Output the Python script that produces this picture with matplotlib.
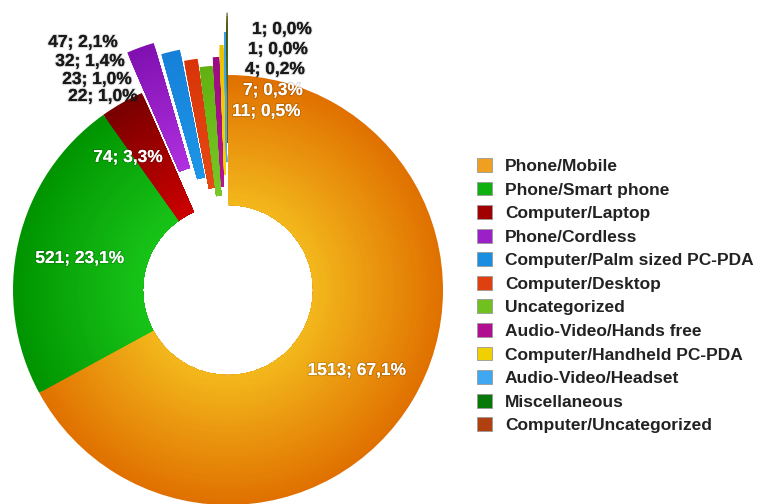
"""Bluetooth device classes seen in a scan, drawn as an exploded donut."""

import matplotlib

matplotlib.use("Agg")
import matplotlib.patheffects as pe
import matplotlib.pyplot as plt
import numpy as np
from matplotlib.colors import to_rgb
from matplotlib.patches import Patch

categories = [
    "Phone/Mobile",
    "Phone/Smart phone",
    "Computer/Laptop",
    "Phone/Cordless",
    "Computer/Palm sized PC-PDA",
    "Computer/Desktop",
    "Uncategorized",
    "Audio-Video/Hands free",
    "Computer/Handheld PC-PDA",
    "Audio-Video/Headset",
    "Miscellaneous",
    "Computer/Uncategorized",
]
counts = [1513, 521, 74, 47, 32, 23, 22, 11, 7, 4, 1, 1]

# how far each wedge is pulled out of the ring (pie radius = 1)
explode = [0, 0, 0, 0.2, 0.14, 0.085, 0.045, 0.085, 0.14, 0.2, 0.29, 0.29]

# radial shading: colour at the hole edge and at the outer edge
inner_colors = ["#f3b81c", "#18c418", "#cc0000", "#b030e0", "#1c96e8", "#e84a14",
                "#78c828", "#b81498", "#f4d800", "#48b0f0", "#088808", "#b84812"]
outer_colors = ["#e07000", "#009400", "#780000", "#8010b0", "#1680d8", "#d83408",
                "#60b010", "#980c80", "#e8c000", "#38a0e8", "#006800", "#a03c0c"]
legend_colors = ["#f0a020", "#10b010", "#a00000", "#9a20c8", "#1a8ee0", "#e04010",
                 "#70c020", "#b01090", "#f0d000", "#40a8f0", "#087808", "#b04010"]

W, H = 764, 504
CX, CY = 228, 290      # donut centre in pixels (from top left)
R_PX = 215             # outer radius in pixels
HOLE = 85 / R_PX       # hole radius as a fraction of the outer radius

# label anchors in pixels: (x, baseline y, horizontal alignment, colour)
label_layout = [
    (357, 375, "center", "white"),
    (80, 263, "center", "white"),
    (128, 162, "center", "white"),
    (118, 47, "right", "#1a1a1a"),
    (125, 66, "right", "#1a1a1a"),
    (132, 84, "right", "#1a1a1a"),
    (138, 101, "right", "#1a1a1a"),
    (232, 116, "left", "white"),
    (243, 95, "left", "white"),
    (245, 74, "left", "#1a1a1a"),
    (248, 54, "left", "#1a1a1a"),
    (252, 34, "left", "#1a1a1a"),
]


def px(x, y):
    return (x - CX) / R_PX, (CY - y) / R_PX


def mix(c0, c1, t):
    a, b = np.array(to_rgb(c0)), np.array(to_rgb(c1))
    return tuple(a + (b - a) * t)


plt.rcParams["font.family"] = ["Liberation Sans", "DejaVu Sans"]
fig = plt.figure(figsize=(W / 100, H / 100), dpi=100)
ax = fig.add_axes([0, 0, 1, 1])

# shade the ring by stacking wedges, outermost first
steps = 40
for k in range(steps, 0, -1):
    r = HOLE + (1 - HOLE) * k / steps
    t = (k - 0.5) / steps
    ax.pie(
        counts,
        radius=r,
        colors=[mix(a, b, t) for a, b in zip(inner_colors, outer_colors)],
        explode=explode,
        startangle=90,
        counterclock=False,
        wedgeprops=dict(width=r - HOLE, linewidth=0),
    )

ax.set_xlim(-CX / R_PX, (W - CX) / R_PX)
ax.set_ylim(-(H - CY) / R_PX, CY / R_PX)
ax.set_aspect("equal")
ax.axis("off")

total = sum(counts)
shadow = [pe.withStroke(linewidth=1.6, foreground=(0, 0, 0, 0.14))]
for count, (x, y, ha, color) in zip(counts, label_layout):
    text = f"{count}; {count / total * 100:.1f}%".replace(".", ",")
    tx, ty = px(x, y)
    ax.text(tx, ty, text, ha=ha, va="baseline", color=color,
            fontsize=12.5, fontweight="bold", path_effects=shadow)

handles = [Patch(facecolor=c, edgecolor="#999999", linewidth=0.6) for c in legend_colors]
fig.legend(
    handles,
    categories,
    loc="upper left",
    bbox_to_anchor=(477 / W, 1 - 158 / H),
    frameon=False,
    borderpad=0,
    borderaxespad=0,
    handlelength=0.85,
    handleheight=0.85,
    handletextpad=0.75,
    labelspacing=0.44,
    prop=dict(size=12.5, weight="bold"),
    labelcolor="#222222",
)

fig.savefig("out.png", dpi=100)
